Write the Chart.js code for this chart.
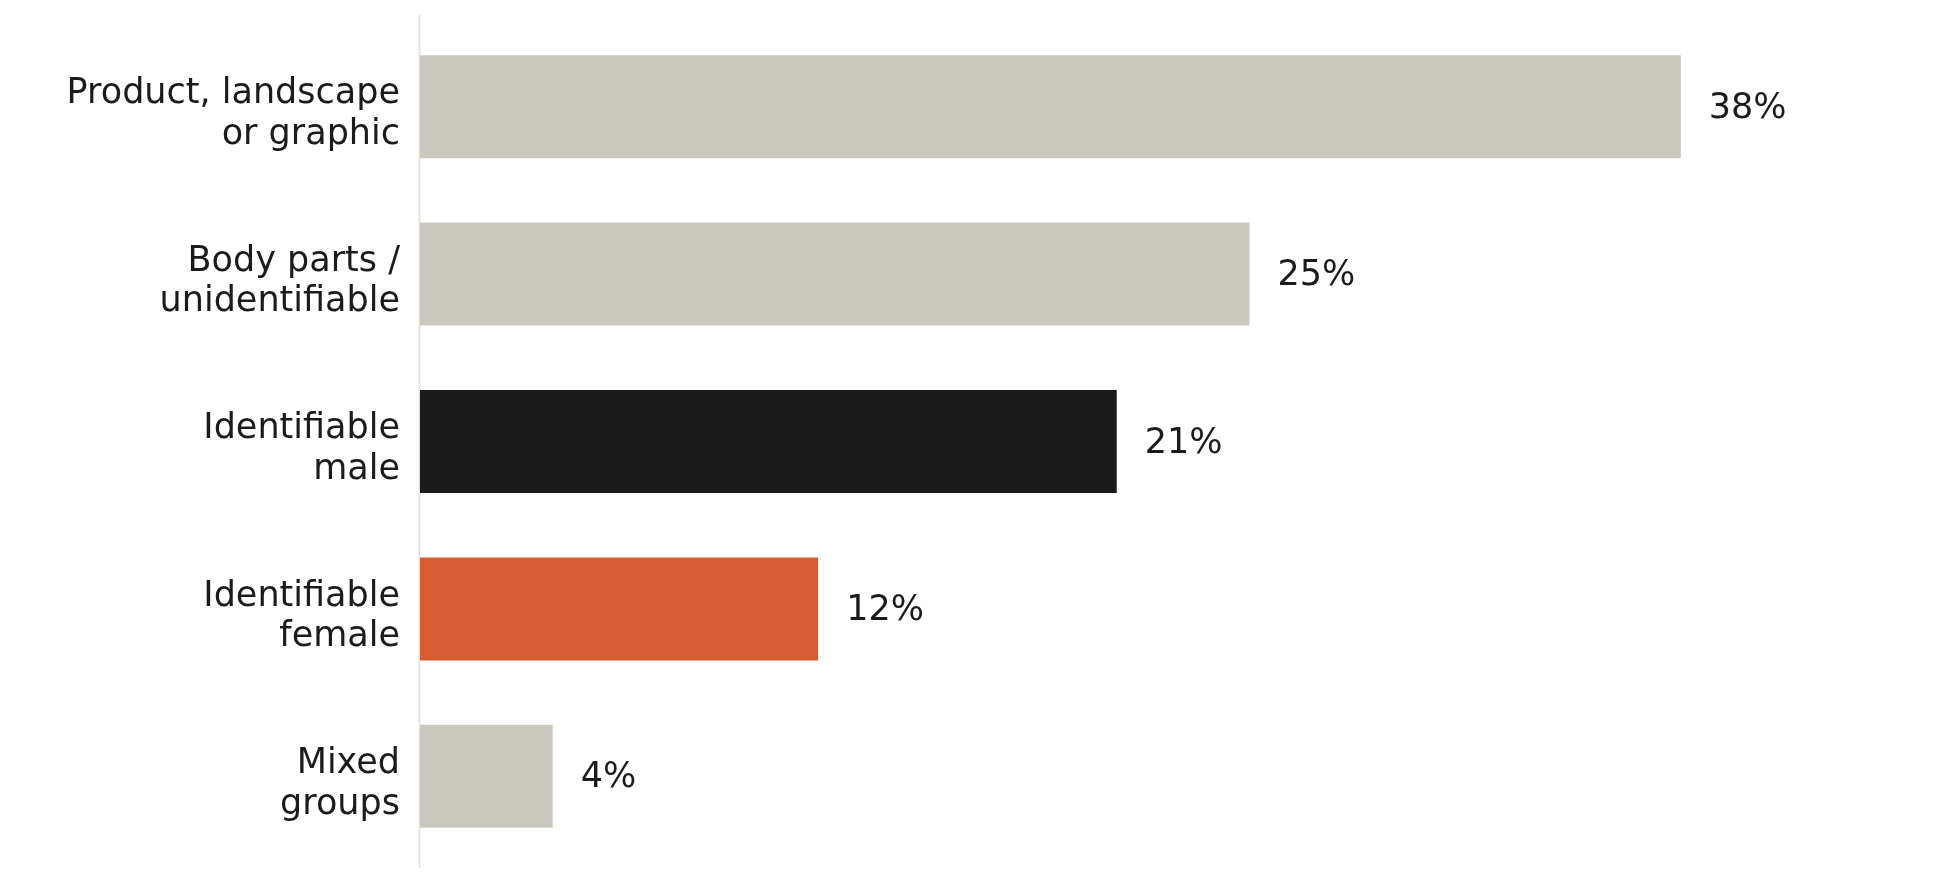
<!DOCTYPE html>
<html>
<head>
<meta charset="utf-8">
<script src="https://cdn.jsdelivr.net/npm/chart.js@4/dist/chart.umd.min.js"></script>
<style>
  html, body { margin: 0; padding: 0; background: #fff; }
  #wrap { width: 1950px; height: 881px; }
</style>
</head>
<body>
<div id="wrap"><canvas id="chart" width="1950" height="881"></canvas></div>
<script>
const categories = [
    ['Product, landscape', 'or graphic'],
    ['Body parts /', 'unidentifiable'],
    ['Identifiable', 'male'],
    ['Identifiable', 'female'],
    ['Mixed', 'groups']
];
const shares = [38, 25, 21, 12, 4];
const barColors = ['#cac7bf', '#cac7bf', '#1b1b1b', '#d85b32', '#cac7bf'];

const textColor = '#1b1b1b';
const fontFamily = '"DejaVu Sans", sans-serif';

// light vertical baseline at zero, a bit taller than the bars area
const baseLine = {
    id: 'baseLine',
    beforeDatasetsDraw(chart) {
        const ctx = chart.ctx;
        const x = chart.scales.x.getPixelForValue(0);
        ctx.save();
        ctx.strokeStyle = '#e4e3de';
        ctx.lineWidth = 2;
        ctx.beginPath();
        ctx.moveTo(x - 0.5, chart.chartArea.top - 8);
        ctx.lineTo(x - 0.5, chart.chartArea.bottom + 8);
        ctx.stroke();
        ctx.restore();
    }
};

// percentage labels right of each bar
const valueLabels = {
    id: 'valueLabels',
    afterDatasetsDraw(chart) {
        const ctx = chart.ctx;
        const meta = chart.getDatasetMeta(0);
        ctx.save();
        ctx.font = '35px ' + fontFamily;
        ctx.fillStyle = textColor;
        ctx.textAlign = 'left';
        ctx.textBaseline = 'middle';
        meta.data.forEach((bar, i) => {
            ctx.fillText(shares[i] + '%', bar.x + 28, bar.y + 2);
        });
        ctx.restore();
    }
};

new Chart(document.getElementById('chart').getContext('2d'), {
    type: 'bar',
    data: {
        labels: categories,
        datasets: [{
            data: shares,
            backgroundColor: barColors,
            borderWidth: 0,
            barPercentage: 0.615,
            categoryPercentage: 1
        }]
    },
    options: {
        indexAxis: 'y',
        responsive: false,
        animation: false,
        devicePixelRatio: 1,
        layout: {
            padding: { top: 23, bottom: 21, left: 0, right: 37 }
        },
        plugins: {
            legend: { display: false },
            tooltip: { enabled: false }
        },
        scales: {
            x: {
                display: false,
                min: 0,
                max: 45
            },
            y: {
                grid: { display: false, drawTicks: false },
                border: { display: false },
                ticks: {
                    color: textColor,
                    padding: 20,
                    labelOffset: 8,
                    font: { family: fontFamily, size: 35, lineHeight: 1.16 }
                },
                afterFit(scale) {
                    scale.width = 420;
                    // labels sit inside their bands, no extra room needed
                    scale.paddingTop = 0;
                    scale.paddingBottom = 0;
                }
            }
        }
    },
    plugins: [baseLine, valueLabels]
});
</script>
</body>
</html>
